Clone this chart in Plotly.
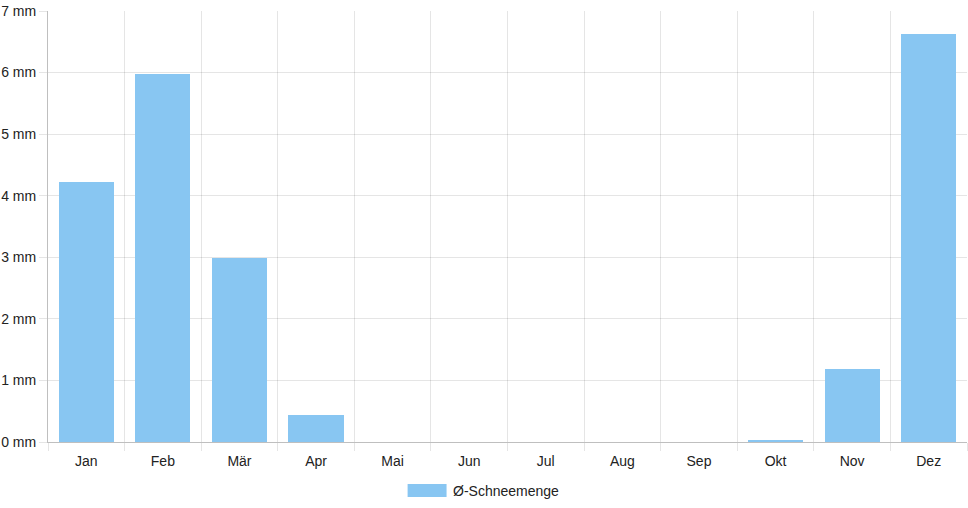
import plotly.graph_objects as go

# monthly average snowfall
months = ["Jan", "Feb", "Mär", "Apr", "Mai", "Jun", "Jul", "Aug", "Sep", "Okt", "Nov", "Dez"]
snow_mm = [4.23, 5.97, 2.99, 0.44, 0, 0, 0, 0, 0, 0.02, 1.19, 6.62]
series_name = "Ø-Schneemenge"
y_ticks = [0, 1, 2, 3, 4, 5, 6, 7]
y_labels = [f"{v} mm" for v in y_ticks]

bar_color = "#88C6F2"
grid_color = "rgba(0,0,0,0.1)"
axis_color = "rgba(0,0,0,0.25)"
font_family = "Liberation Sans, Arial, sans-serif"

fig = go.Figure()

fig.add_trace(go.Bar(
    x=months,
    y=snow_mm,
    name=series_name,
    width=0.72,
    marker=dict(color=bar_color, line=dict(width=0)),
    showlegend=False,
))

# hand-made legend (wide colour box like the original)
fig.add_shape(type="rect", xref="paper", yref="paper",
              x0=(408 - 48) / 920, x1=(447 - 48) / 920,
              y0=(442 - 497) / 431, y1=(442 - 484) / 431,
              fillcolor=bar_color, line=dict(width=0))
fig.add_annotation(text=series_name, xref="paper", yref="paper",
                   x=(451 - 48) / 920, y=(442 - 490.5) / 431,
                   xanchor="left", yanchor="middle", showarrow=False,
                   font=dict(size=14, color="#222", family=font_family))

fig.update_layout(
    width=968,
    height=508,
    margin=dict(l=48, r=1, t=11, b=66),
    paper_bgcolor="white",
    plot_bgcolor="white",
    font=dict(family=font_family, size=14, color="#222"),
    bargap=0,
    xaxis=dict(
        type="category",
        tickson="boundaries",
        showgrid=True,
        gridcolor=grid_color,
        gridwidth=1,
        ticks="outside",
        ticklen=8,
        tickcolor=grid_color,
        ticklabelstandoff=6,
        showline=True,
        linecolor=axis_color,
        linewidth=1,
        zeroline=False,
    ),
    yaxis=dict(
        range=[0, 7],
        tickmode="array",
        tickvals=y_ticks,
        ticktext=y_labels,
        showgrid=True,
        gridcolor=grid_color,
        gridwidth=1,
        ticks="outside",
        ticklen=8,
        tickcolor=grid_color,
        showline=True,
        linecolor=axis_color,
        linewidth=1,
        zeroline=False,
    ),
)

# page body has a default 8px margin; drop it so the figure sits at 0,0
fig.write_html("out.html", config={"displayModeBar": False},
               post_script="document.body.style.margin = '0';")
